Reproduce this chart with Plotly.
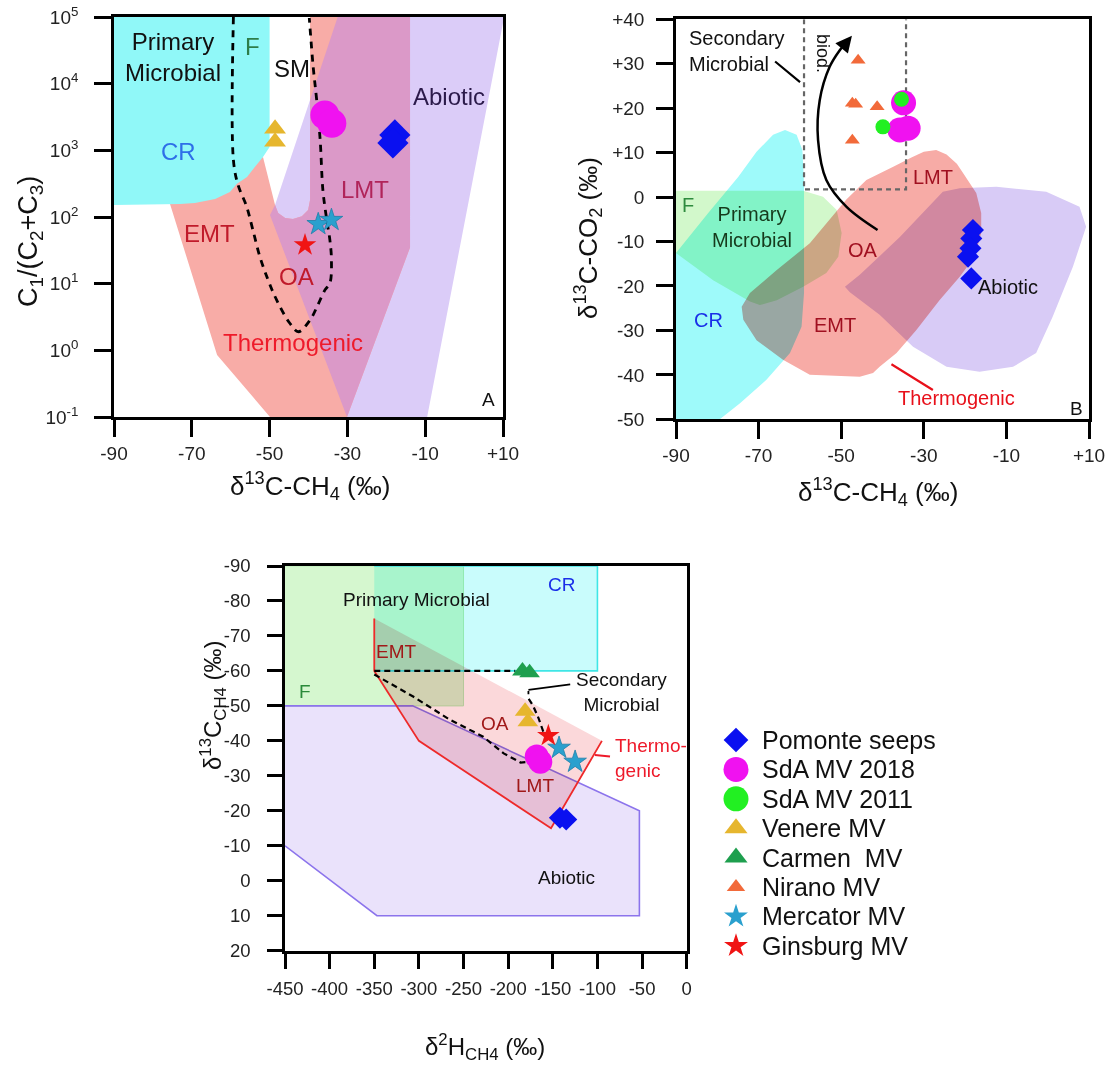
import plotly.graph_objects as go

FONT = "Liberation Sans, Arial, sans-serif"

# ======================= DATA =======================
# ---- Panel A : d13C-CH4 (x) vs C1/(C2+C3) (y, log) ----
a_pomonte_x = [-17.8, -18.3]
a_pomonte_y = [1700, 1290]
a_sda18_x = [-35.8, -34.0]
a_sda18_y = [3390, 2540]
a_venere_x = [-48.6, -48.6]
a_venere_y = [2100, 1350]
a_mercator_x = [-37.5, -34.1]
a_mercator_y = [78, 90]
a_ginsburg_x = [-40.9]
a_ginsburg_y = [38]

# genetic fields, panel A
a_cr_x = [-90, -50, -50, -51.7, -53.8, -55.8, -58.4, -60.2, -64.0, -69.2, -73.0, -90]
a_cr_y = [1e5, 1e5, 1120, 794, 562, 398, 316, 237, 186, 162, 157, 151]
a_thermo_x = [-75.6, -63.5, -49.9, -30.1, -13.9, -13.9, -39.6, -39.6, -40.1, -41.7, -44.0, -46.0, -47.8, -48.6, -51.7]
a_thermo_y = [157, 0.85, 0.1, 0.1, 35, 1e5, 1e5, 180, 127, 103, 93, 97, 115, 151, 794]
a_abiotic_x = [-32.5, -39.6, -48.6, -49.9, -30.1, -9.5, 10.3]
a_abiotic_y = [1e5, 5690, 151, 107, 0.1, 0.1, 1e5]
a_lmt_x = [-32.5, -13.9, -13.9, -30.1, -49.9, -48.6, -47.8, -46.0, -44.0, -41.7, -40.1, -39.6, -39.6]
a_lmt_y = [1e5, 1e5, 35, 0.1, 107, 151, 115, 97, 93, 103, 127, 180, 5690]
a_sm_x = [-59.3, -59.3, -58.1, -55.9, -54.3, -52.5, -50.4, -48.2, -44.8, -42.6, -39.6, -37.6,
          -35.8, -34.5, -34.1, -34.5, -35.3, -36.3, -37.0, -37.9, -38.8, -39.8]
a_sm_y = [1e5, 716, 302, 143, 64, 25.4, 11.4, 5.7, 2.55, 1.9, 2.85, 4.8,
          8.0, 10.2, 22.6, 45, 90, 254, 1430, 5690, 18000, 96600]

# ---- Panel B : d13C-CH4 (x) vs d13C-CO2 (y) ----
b_pomonte_x = [-18.1, -18.5, -18.7, -19.3, -18.5]
b_pomonte_y = [-7.4, -9.3, -11.5, -13.4, -18.3]
b_sda18_x = [-34.9, -35.8, -33.8]
b_sda18_y = [21.2, 15.1, 15.5]
b_sda11_x = [-35.4, -39.9]
b_sda11_y = [22.0, 15.8]
b_nirano_x = [-45.9, -47.3, -46.5, -41.3, -47.3]
b_nirano_y = [30.8, 21.1, 20.9, 20.3, 12.8]

b_cr_x = [-90, -90, -82.2, -74.9, -70.5, -66.5, -63.6, -60.8, -59.4, -59.0, -59.0, -59.6, -62.4, -68.1, -74.5, -79.4]
b_cr_y = [-50, -12.6, -3.6, 4.6, 10.2, 14.0, 15.1, 14.0, 10.6, 3.1, -21.6, -29.2, -35.1, -41.1, -46.4, -50]
b_pm_x = [-90, -59.2, -54.4, -51.1, -49.9, -50.7, -53.6, -59.2, -65.6, -69.7, -72.1, -81.0, -90]
b_pm_y = [1.4, 1.4, 0.1, -2.9, -8.1, -13.4, -17.1, -20.2, -23.2, -24.3, -23.5, -18.7, -12.6]
b_thermo_x = [-48.7, -57.6, -65.6, -72.1, -74.1, -73.7, -70.5, -64.1, -57.6, -45.5, -42.3, -40.7, -36.6,
              -31.8, -26.2, -21.3, -17.7, -16.1, -16.1, -17.3, -20.5, -22.0, -24.5, -27.0, -30.0, -33.0, -37.4, -43.9]
b_thermo_y = [-0.5, -10.4, -16.4, -21.6, -24.7, -27.6, -32.2, -36.6, -40.0, -40.4, -39.6, -38.2, -35.1,
              -29.9, -23.2, -17.9, -13.4, -8.1, -3.6, 0.9, 5.4, 7.5, 9.6, 10.6, 10.2, 8.9, 6.8, 3.85]
b_abiotic_x = [-49.1, -45.5, -35.8, -25.4, -21.3, -12.4, -0.35, 7.7, 9.3, 6.1, 1.2, -2.8, -8.4, -16.5, -24.5, -32.6, -40.7, -47.9]
b_abiotic_y = [-20.2, -17.5, -9.0, 1.2, 2.0, 2.3, 1.2, -2.2, -6.7, -15.7, -26.9, -35.1, -38.2, -39.3, -38.2, -33.7, -26.5, -21.4]
b_biod_x = [-59.0, -59.0, -34.3, -34.3]
b_biod_y = [40, 1.75, 1.75, 40]
b_path_x = [-41.2, -48.7, -53.6, -55.6, -55.2, -52.8, -50.3, -48.6]
b_path_y = [-7.4, -2.2, 3.85, 12.8, 21.8, 29.3, 33.1, 35.0]

# ---- Panel C : d2H-CH4 (x) vs d13C-CH4 (y, reversed) ----
c_pomonte_x = [-142, -135]
c_pomonte_y = [-18, -17.5]
c_sda18_x = [-168, -164]
c_sda18_y = [-35.5, -34.0]
c_venere_x = [-181, -178]
c_venere_y = [-48.5, -45.5]
c_carmen_x = [-184, -176]
c_carmen_y = [-60, -59.5]
c_mercator_x = [-143, -125]
c_mercator_y = [-38, -34]
c_ginsburg_x = [-155]
c_ginsburg_y = [-41.5]

c_pm_x = [-450, -250, -250, -450]
c_pm_y = [-90, -90, -50, -50]
c_cr_x = [-350, -100, -100, -350]
c_cr_y = [-90, -90, -60, -60]
c_abiotic_x = [-450, -307, -53, -53, -347, -450]
c_abiotic_y = [-50, -50, -20, 10, 10, -10]
c_thermo_x = [-350, -350, -300, -152, -95]
c_thermo_y = [-75, -60, -40, -15, -40]
c_oa_top_x = [-350, -192]
c_oa_top_y = [-60, -60]
c_oa_low_x = [-350, -306, -265, -228, -205, -186, -177]
c_oa_low_y = [-59, -52.6, -46, -41.2, -36.4, -33.8, -34]
c_sm_x = [-177, -172, -166, -161, -157]
c_sm_y = [-52, -50, -46.5, -43, -40]

# ---- tick labels ----
xa_ticks = [-90, -70, -50, -30, -10, 10]
xa_text = ["-90", "-70", "-50", "-30", "-10", "+10"]
ya_ticks = [0.1, 1, 10, 100, 1000, 10000, 100000]
ya_text = ["10<sup>-1</sup>", "10<sup>0</sup>", "10<sup>1</sup>", "10<sup>2</sup>",
           "10<sup>3</sup>", "10<sup>4</sup>", "10<sup>5</sup>"]
yb_ticks = [40, 30, 20, 10, 0, -10, -20, -30, -40, -50]
yb_text = ["+40", "+30", "+20", "+10", "0", "-10", "-20", "-30", "-40", "-50"]
xc_ticks = [-450, -400, -350, -300, -250, -200, -150, -100, -50, 0]
xc_text = ["-450", "-400", "-350", "-300", "-250", "-200", "-150", "-100", "-50", "0"]
yc_ticks = [-90, -80, -70, -60, -50, -40, -30, -20, -10, 0, 10, 20]
yc_text = ["-90", "-80", "-70", "-60", "-50", "-40", "-30", "-20", "-10", "0", "10", "20"]

# ---- legend ----
legend_names = ["Pomonte seeps", "SdA MV 2018", "SdA MV 2011", "Venere MV",
                "Carmen\u00a0\u00a0MV", "Nirano MV", "Mercator MV", "Ginsburg MV"]

# ======================= STYLE =======================
C_POM = "#0A10F0"
C_SDA18 = "#F012F0"
C_SDA11 = "#22F022"
C_VEN = "#E6B62E"
C_CAR = "#1E9F4E"
C_NIR = "#F26A3A"
C_MER = "#2AA0CE"
C_GIN = "#F01414"

fig = go.Figure()


def poly(x, y, color, ax, line_color=None, lw=0):
    fig.add_trace(go.Scatter(
        x=x, y=y, fill="toself", fillcolor=color, mode="lines",
        line=dict(width=lw, color=line_color or color),
        hoverinfo="skip", showlegend=False, xaxis=ax[0], yaxis=ax[1]))


def line(x, y, ax, color="black", width=2.5, dash="solid", shape="linear"):
    fig.add_trace(go.Scatter(
        x=x, y=y, mode="lines", line=dict(color=color, width=width, dash=dash, shape=shape),
        hoverinfo="skip", showlegend=False, xaxis=ax[0], yaxis=ax[1]))


def pts(x, y, symbol, color, size, ax, lc=None, lw=0):
    fig.add_trace(go.Scatter(
        x=x, y=y, mode="markers",
        marker=dict(symbol=symbol, color=color, size=size,
                    line=dict(color=lc or color, width=lw)),
        hoverinfo="skip", showlegend=False, xaxis=ax[0], yaxis=ax[1]))


AX_A = ("x", "y")
AX_B = ("x2", "y2")
AX_C = ("x3", "y3")

# ---------- panel A ----------
poly(a_abiotic_x, a_abiotic_y, "#DBCCF8", AX_A)
poly(a_thermo_x, a_thermo_y, "#F8ACA7", AX_A)
poly(a_lmt_x, a_lmt_y, "#DB99C8", AX_A)
poly(a_cr_x, a_cr_y, "#90F8F8", AX_A)
line(a_sm_x, a_sm_y, AX_A, width=2.8, dash="7px,6px", shape="spline")
pts(a_venere_x, a_venere_y, "triangle-up", C_VEN, 19, AX_A)
pts(a_sda18_x, a_sda18_y, "circle", C_SDA18, 29, AX_A)
pts(a_pomonte_x, a_pomonte_y, "diamond", C_POM, 24, AX_A)
pts(a_mercator_x, a_mercator_y, "star", C_MER, 17, AX_A, lc="#1F7FA8", lw=0.8)
pts(a_ginsburg_x, a_ginsburg_y, "star", C_GIN, 17, AX_A)

# ---------- panel B ----------
poly(b_cr_x, b_cr_y, "#9EFAFA", AX_B)
poly(b_pm_x, b_pm_y, "#D2F8CB", AX_B)
poly(b_thermo_x, b_thermo_y, "#F7ABA6", AX_B)
poly(b_abiotic_x, b_abiotic_y, "#D8CBF6", AX_B)
line(b_biod_x, b_biod_y, AX_B, color="#666666", width=2.2, dash="5px,4px")
line(b_path_x, b_path_y, AX_B, width=2.5, shape="spline")
pts(b_nirano_x, b_nirano_y, "triangle-up", C_NIR, 13, AX_B)
pts(b_sda18_x, b_sda18_y, "circle", C_SDA18, 25, AX_B)
pts(b_sda11_x, b_sda11_y, "circle", C_SDA11, 15, AX_B)
pts(b_pomonte_x, b_pomonte_y, "diamond", C_POM, 17, AX_B)

# ---------- panel C ----------
poly(c_pm_x, c_pm_y, "#D5F7CF", AX_C, line_color="#B8EDB3", lw=1)
poly(c_cr_x, c_cr_y, "#C9FCFC", AX_C, line_color="#3FE6E6", lw=1.6)
poly(c_abiotic_x, c_abiotic_y, "#EAE2FB", AX_C, line_color="#8C74EC", lw=1.6)
poly(c_thermo_x, c_thermo_y, "#FBD8DA", AX_C, line_color="#EE2A2A", lw=1.8)
line(c_oa_top_x, c_oa_top_y, AX_C, width=2.2, dash="6px,4px")
line(c_oa_low_x, c_oa_low_y, AX_C, width=2.2, dash="6px,4px")
line(c_sm_x, c_sm_y, AX_C, width=2.2, dash="6px,4px")
pts(c_carmen_x, c_carmen_y, "triangle-up", C_CAR, 18, AX_C)
pts(c_venere_x, c_venere_y, "triangle-up", C_VEN, 18, AX_C)
pts(c_sda18_x, c_sda18_y, "circle", C_SDA18, 24, AX_C)
pts(c_pomonte_x, c_pomonte_y, "diamond", C_POM, 17, AX_C)
pts(c_mercator_x, c_mercator_y, "star", C_MER, 17, AX_C, lc="#1F7FA8", lw=0.8)
pts(c_ginsburg_x, c_ginsburg_y, "star", C_GIN, 17, AX_C)

# ---------- legend (manual, larger symbols) ----------
leg_symbols = ["diamond", "circle", "circle", "triangle-up", "triangle-up", "triangle-up", "star", "star"]
leg_colors = [C_POM, C_SDA18, C_SDA11, C_VEN, C_CAR, C_NIR, C_MER, C_GIN]
leg_sizes = [19, 25, 25, 20, 20, 16, 18, 18]
for i, name in enumerate(legend_names):
    fig.add_trace(go.Scatter(
        x=[36], y=[i], mode="markers",
        marker=dict(symbol=leg_symbols[i], color=leg_colors[i], size=leg_sizes[i], line=dict(width=0)),
        hoverinfo="skip", showlegend=False, xaxis="x4", yaxis="y4"))

# ======================= LAYOUT =======================
W, H = 1113, 1074


def px_x(p):
    return p / W


def px_y(p):
    return 1 - p / H


def ax_style(**kw):
    d = dict(showline=True, linewidth=2.6, linecolor="black", mirror=True,
             ticks="outside", ticklen=17, tickwidth=2.6, tickcolor="black",
             showgrid=False, zeroline=False, ticklabelstandoff=0,
             tickfont=dict(family=FONT, size=19, color="#222222"))
    d.update(kw)
    return d


ann = []


def text(x, y, s, size, color, xref, yref, **kw):
    d = dict(x=x, y=y, text=s, xref=xref, yref=yref, showarrow=False,
             xanchor="center", yanchor="middle",
             font=dict(family=FONT, size=size, color=color))
    d.update(kw)
    ann.append(d)


# panel A labels (y given as log10 for log axis)
text(-74.8, 4.405, "Primary<br>Microbial", 24, "#111111", "x", "y")
text(-54.4, 4.555, "F", 24, "#2E7D4A", "x", "y")
text(-44.3, 4.23, "SM", 24, "#111111", "x", "y")
text(-3.9, 3.805, "Abiotic", 24, "#2B1A4A", "x", "y")
text(-73.3, 2.98, "CR", 24, "#2E6FE8", "x", "y")
text(-25.5, 2.405, "LMT", 24, "#B0245A", "x", "y")
text(-65.5, 1.745, "EMT", 24, "#C01A2A", "x", "y")
text(-43.2, 1.105, "OA", 24, "#C01A2A", "x", "y")
text(-43.9, 0.115, "Thermogenic", 24, "#EE1A2A", "x", "y")
text(6.2, -0.745, "A", 19, "#111111", "x", "y")

# panel B labels
text(-87.4, 32.9, "Secondary<br>Microbial", 20, "#111111", "x2", "y2", xanchor="left", align="left")
text(-54.4, 32.4, "biod.", 18, "#111111", "x2", "y2", textangle=90)
text(-87.0, -1.8, "F", 20, "#2E8B3E", "x2", "y2")
text(-71.7, -6.7, "Primary<br>Microbial", 20, "#163A1C", "x2", "y2")
text(-82.2, -27.6, "CR", 20, "#1A2FE8", "x2", "y2")
text(-44.7, -11.9, "OA", 20, "#A01020", "x2", "y2")
text(-51.5, -28.8, "EMT", 20, "#A01020", "x2", "y2")
text(-27.8, 4.6, "LMT", 20, "#A01020", "x2", "y2")
text(-9.5, -20.2, "Abiotic", 20, "#111111", "x2", "y2")
text(-22.1, -45.3, "Thermogenic", 20, "#E8101A", "x2", "y2")
text(6.9, -47.5, "B", 19, "#111111", "x2", "y2")
# pointers / arrow in B
ann.append(dict(x=-66.0, y=30.5, ax=-59.6, ay=25.6, xref="x2", yref="y2", axref="x2", ayref="y2",
                text="", showarrow=True, arrowhead=0, arrowwidth=2.2, arrowcolor="black"))
ann.append(dict(x=-27.8, y=-43.4, ax=-38.2, ay=-37.4, xref="x2", yref="y2", axref="x2", ayref="y2",
                text="", showarrow=True, arrowhead=0, arrowwidth=2.2, arrowcolor="#E8101A"))
ann.append(dict(x=-47.4, y=36.3, ax=-48.9, ay=34.6, xref="x2", yref="y2", axref="x2", ayref="y2",
                text="", showarrow=True, arrowhead=2, arrowsize=1.3, arrowwidth=2.5, arrowcolor="black"))

# panel C labels
text(-140, -84.6, "CR", 19, "#1A2FE8", "x3", "y3")
text(-302.5, -80.3, "Primary Microbial", 19, "#111111", "x3", "y3")
text(-325, -65.5, "EMT", 19, "#A01818", "x3", "y3")
text(-427.6, -54, "F", 19, "#2A8A3A", "x3", "y3")
text(-214.7, -45, "OA", 19, "#A01818", "x3", "y3")
text(-170, -27.1, "LMT", 19, "#A01818", "x3", "y3")
text(-135, -1, "Abiotic", 19, "#111111", "x3", "y3")
text(-73, -54, "Secondary<br>Microbial", 19, "#111111", "x3", "y3")
text(-82.2, -35, "Thermo-<br>genic", 19, "#EE1A2A", "x3", "y3", xanchor="left", align="left")
ann.append(dict(x=-85.9, y=-35.5, ax=-104.6, ay=-36, xref="x3", yref="y3", axref="x3", ayref="y3",
                text="", showarrow=True, arrowhead=0, arrowwidth=2, arrowcolor="#EE1A2A"))
ann.append(dict(x=-177.3, y=-54.6, ax=-128.8, ay=-56.2, xref="x3", yref="y3", axref="x3", ayref="y3",
                text="", showarrow=True, arrowhead=0, arrowwidth=1.8, arrowcolor="black"))
ann.append(dict(x=-177.3, y=-53.3, ax=-177.3, ay=-54.7, xref="x3", yref="y3", axref="x3", ayref="y3",
                text="", showarrow=True, arrowhead=0, arrowwidth=1.8, arrowcolor="black"))

# legend texts
for i, name in enumerate(legend_names):
    text(60, i, name, 25, "#111111", "x4", "y4", xanchor="left")

# axis titles
text(px_x(30), px_y(242), "C<sub>1</sub>/(C<sub>2</sub>+C<sub>3</sub>)", 27, "#111111", "paper", "paper", textangle=-90)
text(px_x(310), px_y(486), "\u03b4<sup>13</sup>C-CH<sub>4</sub> (\u2030)", 26, "#111111", "paper", "paper")
text(px_x(588), px_y(238), "\u03b4<sup>13</sup>C-CO<sub>2</sub> (\u2030)", 26, "#111111", "paper", "paper", textangle=-90)
text(px_x(878), px_y(492), "\u03b4<sup>13</sup>C-CH<sub>4</sub> (\u2030)", 26, "#111111", "paper", "paper")
text(px_x(213), px_y(705), "\u03b4<sup>13</sup>C<sub>CH4</sub> (\u2030)", 24, "#111111", "paper", "paper", textangle=-90)
text(px_x(485), px_y(1047), "\u03b4<sup>2</sup>H<sub>CH4</sub> (\u2030)", 24, "#111111", "paper", "paper")

CFONT = dict(family=FONT, size=18.5, color="#222222")

fig.update_layout(
    width=W, height=H,
    margin=dict(l=0, r=0, t=0, b=0, autoexpand=False),
    paper_bgcolor="white", plot_bgcolor="white",
    showlegend=False,
    font=dict(family=FONT, color="#111111"),
    xaxis=ax_style(domain=[px_x(114), px_x(503)], range=[-90, 10],
                   tickvals=xa_ticks, ticktext=xa_text, anchor="y"),
    yaxis=ax_style(domain=[px_y(417), px_y(17)], type="log", range=[-1, 5],
                   tickvals=ya_ticks, ticktext=ya_text, anchor="x", ticklabelstandoff=12),
    xaxis2=ax_style(domain=[px_x(676), px_x(1089)], range=[-90, 10],
                    tickvals=xa_ticks, ticktext=xa_text, anchor="y2"),
    yaxis2=ax_style(domain=[px_y(419.3), px_y(19.3)], range=[-50, 40],
                    tickvals=yb_ticks, ticktext=yb_text, anchor="x2", ticklabelstandoff=8),
    xaxis3=ax_style(domain=[px_x(285), px_x(686.7)], range=[-450, 0],
                    tickvals=xc_ticks, ticktext=xc_text, anchor="y3", ticklen=15,
                    ticklabelstandoff=4, tickfont=CFONT),
    yaxis3=ax_style(domain=[px_y(950.7), px_y(566)], range=[20, -90],
                    tickvals=yc_ticks, ticktext=yc_text, anchor="x3", ticklen=15,
                    ticklabelstandoff=13, tickfont=CFONT),
    xaxis4=dict(domain=[px_x(700), px_x(1000)], range=[0, 300], visible=False, anchor="y4"),
    yaxis4=dict(domain=[px_y(960.5), px_y(725.3)], range=[7.5, -0.5], visible=False, anchor="x4"),
    annotations=ann,
)

post = """
document.body.style.margin = '0';
document.body.style.overflow = 'hidden';
var gd = document.getElementById('{plot_id}');
function blendFills(){
  var sel = gd.querySelectorAll('.subplot.x2y2 .js-fill, .subplot.x3y3 .js-fill');
  sel.forEach(function(p){ p.style.mixBlendMode = 'multiply'; });
}
blendFills();
setTimeout(blendFills, 50);
setTimeout(blendFills, 400);
if (gd.on) { gd.on('plotly_afterplot', blendFills); }
"""

fig.write_html("out.html", post_script=post, config={"displayModeBar": False})
